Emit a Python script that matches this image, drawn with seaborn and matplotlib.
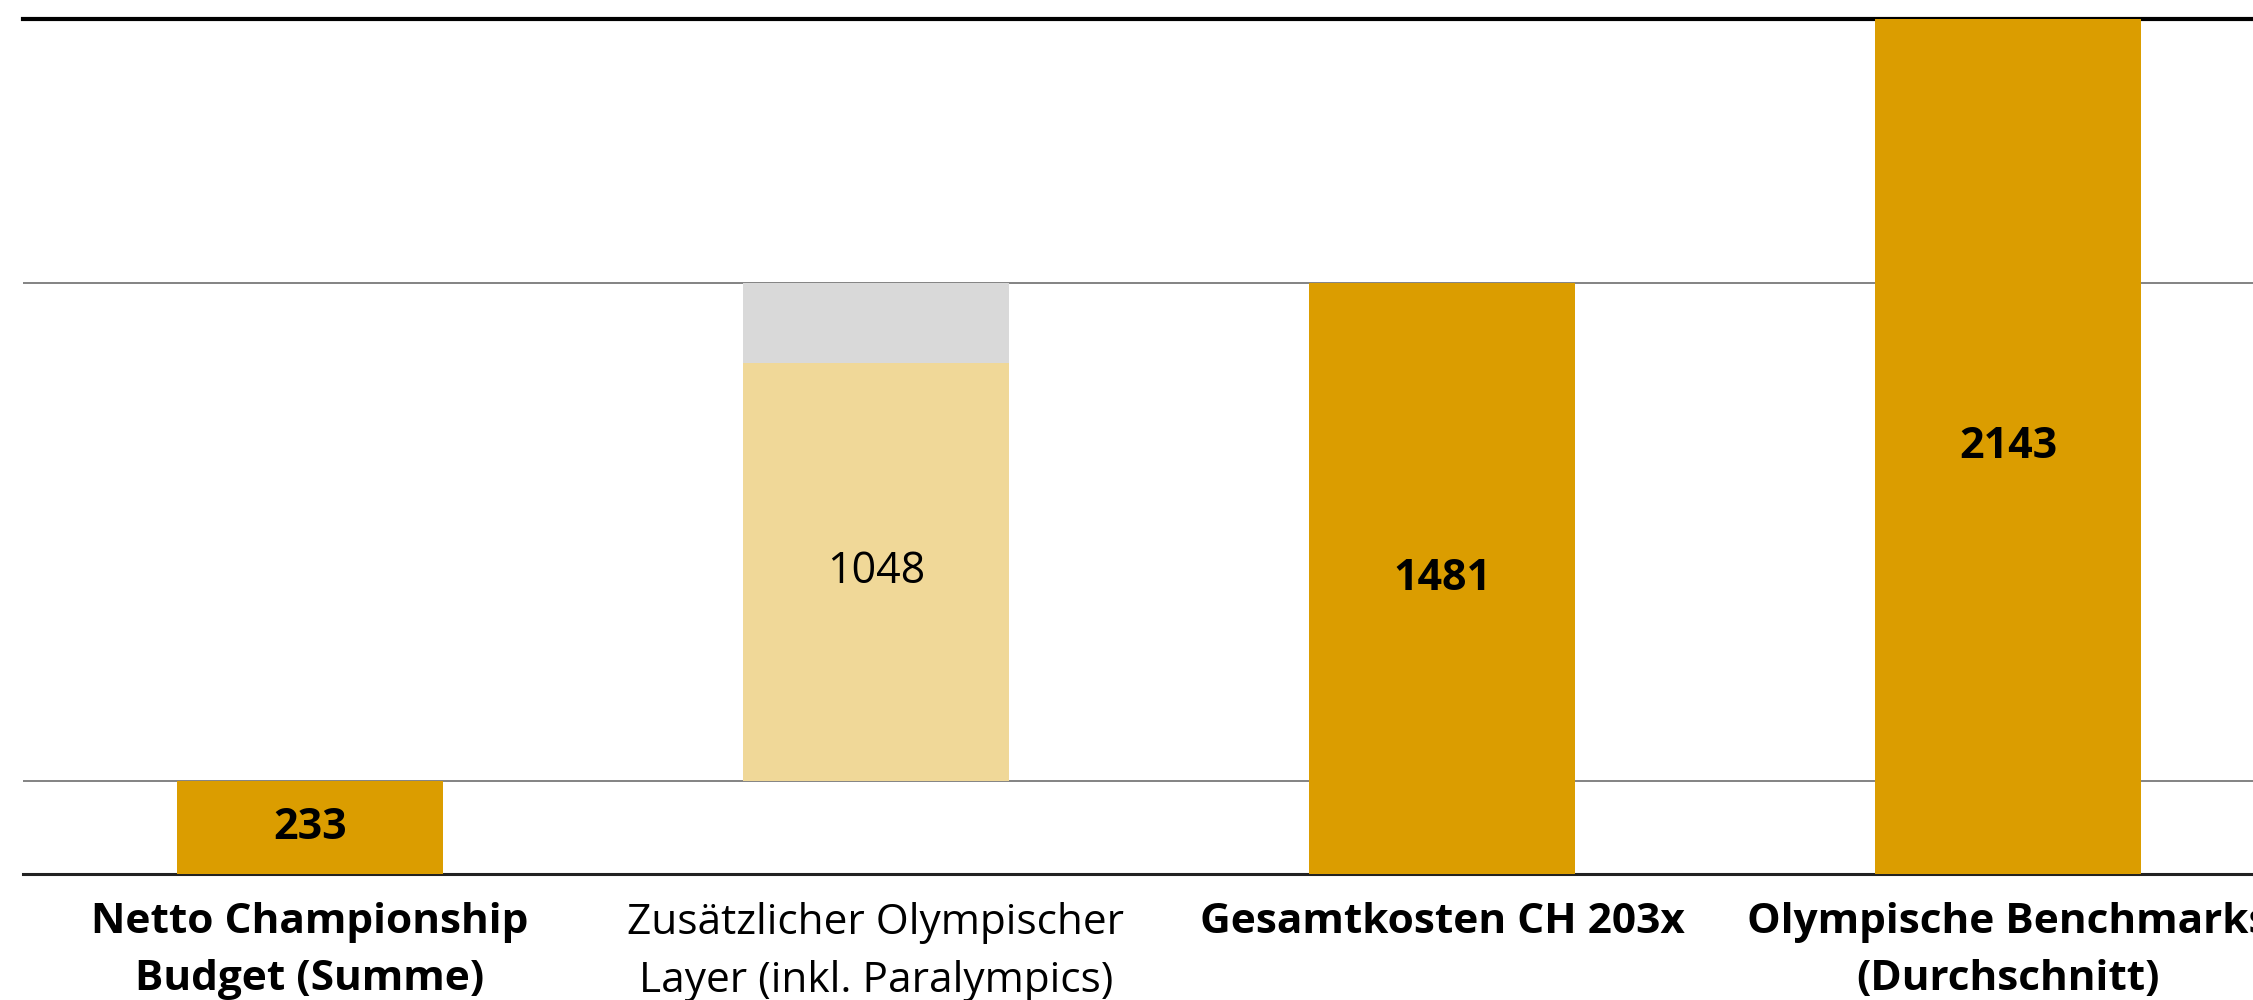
import seaborn as sns
import matplotlib.pyplot as plt

# categories and values (Mio. CHF)
categories = ["Netto Championship\nBudget (Summe)",
              "Zusätzlicher Olympischer\nLayer (inkl. Paralympics)",
              "Gesamtkosten CH 203x",
              "Olympische Benchmarks\n(Durchschnitt)"]
bold_labels = [True, False, True, True]

main_idx = [0, 2, 3]
main_values = [233, 1481, 2143]

layer_base = 233
layer_value = 1048
reserve_value = 200  # grey top part of the olympic layer

gold = "#DB9D00"
light_gold = "#F0D898"
grey = "#D9D9D9"

sns.set_style("white")
plt.rcParams['font.family'] = ['Open Sans', 'DejaVu Sans']
plt.rcParams['text.color'] = 'black'
plt.rcParams['xtick.color'] = 'black'

fig = plt.figure(figsize=(22.53, 10), dpi=100)
ax = fig.add_axes([23 / 2253, 0.126, (2295 - 23) / 2253, 0.855])

bar_kw = dict(width=0.47, saturation=1, ax=ax, zorder=3, linewidth=0, order=categories)
sns.barplot(x=[categories[i] for i in main_idx], y=main_values, color=gold, **bar_kw)
sns.barplot(x=[categories[1]], y=[layer_value], bottom=layer_base,
            color=light_gold, **bar_kw)
sns.barplot(x=[categories[1]], y=[reserve_value], bottom=layer_base + layer_value,
            color=grey, **bar_kw)

ax.set_xlim(-0.507, 3.507)
ax.set_ylim(0, 2143)
ax.set_yticks([233, 1481])
ax.yaxis.grid(True, color="#7a7a7a", linewidth=1.3, zorder=0)
ax.set_axisbelow(True)
ax.tick_params(axis="y", left=False, labelleft=False)
ax.tick_params(axis="x", bottom=False, pad=17, colors="black")
ax.set_xlabel("")
ax.set_ylabel("")

ax.set_xticks(range(len(categories)))
ax.set_xticklabels(categories, fontsize=30.5, linespacing=1.5)
for lab, b in zip(ax.get_xticklabels(), bold_labels):
    lab.set_fontweight("bold" if b else "normal")

for s in ["left", "right"]:
    ax.spines[s].set_visible(False)
ax.spines["top"].set_color("black")
ax.spines["top"].set_linewidth(3)
ax.spines["bottom"].set_color("#222222")
ax.spines["bottom"].set_linewidth(2.2)

# value labels
for i, v in zip(main_idx, main_values):
    ax.text(i, v / 2, str(v), ha="center", va="center", fontsize=31,
            fontweight="bold", zorder=5)
ax.text(1, layer_base + layer_value / 2, str(layer_value), ha="center", va="center",
        fontsize=31, zorder=5)

fig.savefig("out.png", dpi=100)
